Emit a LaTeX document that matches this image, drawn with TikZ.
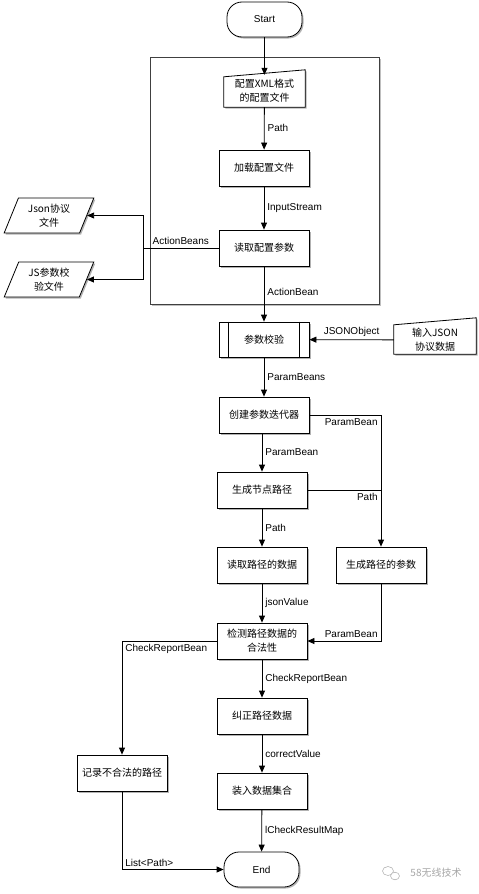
\documentclass[tikz,border=0pt]{standalone}
\usepackage{fontspec}
\setmainfont{Liberation Sans}
\newfontfamily\cjk{Noto Sans CJK SC}
\usetikzlibrary{arrows.meta,shapes.geometric,shadows,calc,backgrounds}
\begin{document}
\begin{tikzpicture}[x=1pt,y=-1pt,
  every node/.style={inner sep=0pt},
  shad/.style={drop shadow={shadow xshift=1.5pt,shadow yshift=-1.5pt,fill=black,opacity=0.3}},
  proc/.style={draw,line width=0.8pt,fill=white,minimum width=90pt,minimum height=36pt,font=\cjk\fontsize{10}{14}\selectfont,align=center,shad},
  term/.style={proc,rounded corners=15pt,minimum width=75pt,minimum height=35pt,font=\fontsize{10}{12}\selectfont},
  txt/.style={font=\cjk\fontsize{10}{14}\selectfont,align=center},
  para/.style={draw,line width=0.8pt,fill=white,shad,trapezium,trapezium left angle=67,trapezium right angle=113,trapezium stretches=true,minimum width=90pt,minimum height=35pt,font=\cjk\fontsize{10}{14}\selectfont,align=center},
  lbl/.style={font=\fontsize{10}{12}\selectfont,inner sep=3pt},
  arr/.style={line width=0.8pt,-{Triangle[length=7pt,width=6pt]}},
  ln/.style={line width=0.8pt},
]
\useasboundingbox (0,0) rectangle (479,894);

% nodes
\node[term] (start) at (264.5,19.5) {Start};
\node[txt,minimum width=81pt,minimum height=32pt] (xml) at (264.5,91) {配置XML格式\\的配置文件};
\node[proc] (load) at (264,168) {加载配置文件};
\node[proc] (rd) at (264,248) {读取配置参数};
\node[para] (json) at (49,215.5) {Json协议\\文件};
\node[para] (jsf) at (49,279.5) {JS参数校\\验文件};
\node[proc,minimum height=35pt] (pv) at (264,339.5) {参数校验};
\draw[ln] ([xshift=10pt]pv.north west) -- ([xshift=10pt]pv.south west);
\draw[ln] ([xshift=-10pt]pv.north east) -- ([xshift=-10pt]pv.south east);
\node[txt,minimum width=82pt,minimum height=28pt] (inj) at (435,340) {输入JSON\\协议数据};
\node[proc] (cr) at (264,415) {创建参数迭代器};
\node[proc] (np) at (262,490) {生成节点路径};
\node[proc] (rpd) at (262,565) {读取路径的数据};
\node[proc] (gp) at (381,565) {生成路径的参数};
\node[proc] (jc) at (262,641) {检测路径数据的\\合法性};
\node[proc] (fix) at (262,716) {纠正路径数据};
\node[proc] (put) at (262,791) {装入数据集合};
\node[proc] (rec) at (122,773) {记录不合法的路径};
\node[term] (end) at (261.5,869.5) {End};

% background frame and manual input shapes
\begin{scope}[on background layer]
  \draw[draw=black!75,line width=0.8pt,fill=white,drop shadow={shadow xshift=1.5pt,shadow yshift=-1.5pt,fill=black,opacity=0.25}] (150,57) rectangle (379,304);
  \draw[ln,fill=white,shad] (xml.south west) -- (xml.south east) -- ($(xml.north east)+(0,-5)$) -- ($(xml.north west)+(0,2)$) -- cycle;
  \draw[ln,fill=white,shad] (inj.south west) -- (inj.south east) -- ($(inj.north east)+(0,-8)$) -- ($(inj.north west)+(0,-1)$) -- cycle;
\end{scope}

% connectors
\draw[arr] (start) -- (xml);
\draw[arr] (xml) -- node[lbl,right]{Path} (load);
\draw[arr] (load) -- node[lbl,right]{InputStream} (rd);
\coordinate (jn) at (143,248);
\draw[ln] (rd) -- node[lbl,above]{ActionBeans} (jn);
\draw[arr] (jn) |- (json);
\draw[arr] (jn) |- (jsf);
\draw[arr] (rd) -- node[lbl,right,pos=0.47]{ActionBean} (pv);
\draw[arr] (inj) -- node[lbl,above]{JSONObject} (pv);
\draw[arr] (pv) -- node[lbl,right]{ParamBeans} (cr);
\draw[arr] (cr.east) -| node[lbl,pos=0.5,below left]{ParamBean} (gp);
\draw[arr] (np.north |- cr.south) -- node[lbl,right]{ParamBean} (np);
\draw[ln] (np.east) -- (np.east -| gp.north) node[lbl,below left]{Path};
\draw[arr] (np) -- node[lbl,right]{Path} (rpd);
\draw[arr] (rpd) -- node[lbl,right]{jsonValue} (jc);
\draw[arr] (gp) |- node[lbl,pos=0.5,above left]{ParamBean} (jc);
\draw[arr] (jc.west) -| node[lbl,pos=0.5,below right]{CheckReportBean} (rec);
\draw[arr] (jc) -- node[lbl,right]{CheckReportBean} (fix);
\draw[arr] (fix) -- node[lbl,right]{correctValue} (put);
\draw[arr] (put) -- node[lbl,right]{lCheckResultMap} (end);
\draw[arr] (rec) |- node[lbl,pos=0.5,above right]{List<Path>} (end);

% watermark
\draw[gray!60,line width=0.6pt] (388,871) ellipse (5.5pt and 4.5pt);
\draw[gray!60,line width=0.6pt,fill=white] (395,876) ellipse (4.5pt and 3.8pt);
\node[font=\cjk\fontsize{10}{12}\selectfont,text=gray!70] (wm) at (436,873) {58无线技术};
\end{tikzpicture}
\end{document}
